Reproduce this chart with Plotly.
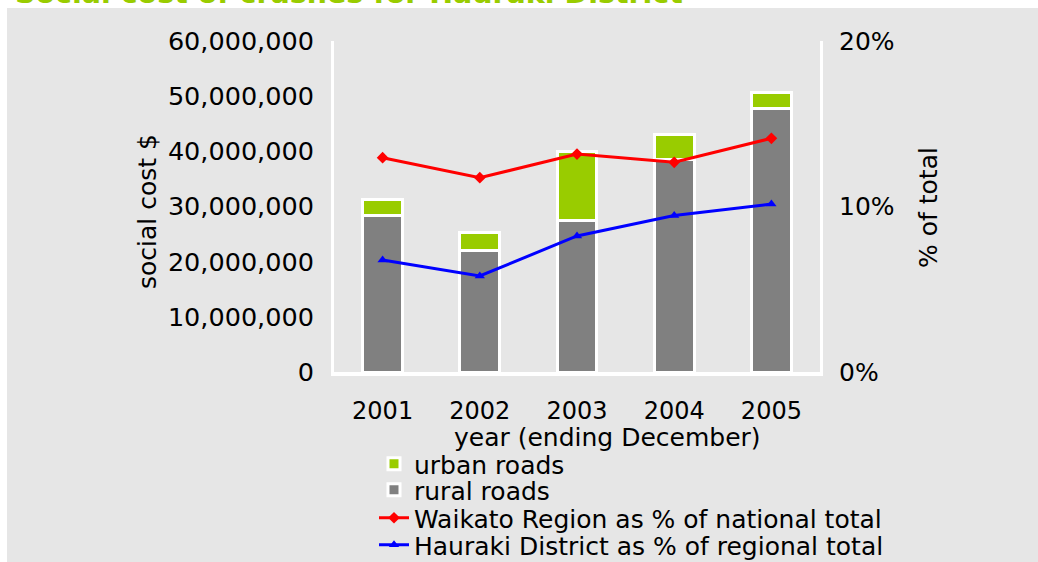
import plotly.graph_objects as go

years = ["2001", "2002", "2003", "2004", "2005"]
rural = [28.3e6, 22.0e6, 27.5e6, 38.6e6, 47.8e6]
urban = [3.0e6, 3.2e6, 12.4e6, 4.4e6, 2.8e6]
waikato_pct = [0.1295, 0.1174, 0.1317, 0.1267, 0.1412]
hauraki_pct = [0.0677, 0.0580, 0.0822, 0.0945, 0.1015]

FONT = "DejaVu Sans"
BG = "#e6e6e6"

fig = go.Figure()
fig.add_trace(go.Bar(x=years, y=rural, name="rural roads", marker=dict(color="#808080", line=dict(color="white", width=3)),
                     legend="legend2"))
fig.add_trace(go.Bar(x=years, y=urban, name="urban roads", marker=dict(color="#99cc00", line=dict(color="white", width=3)),
                     legend="legend"))
fig.add_trace(go.Scatter(x=years, y=waikato_pct, name="Waikato Region as % of national total", yaxis="y2",
                         mode="lines+markers", line=dict(color="#ff0000", width=3),
                         marker=dict(symbol="diamond", size=9, color="#ff0000"), legend="legend3"))
fig.add_trace(go.Scatter(x=years, y=hauraki_pct, name="Hauraki District as % of regional total", yaxis="y2",
                         mode="lines+markers", line=dict(color="#0000ff", width=3),
                         marker=dict(symbol="triangle-up", size=9, color="#0000ff"), legend="legend4"))

W, H = 1038, 562
# plot area in page pixels
PL, PR, PT, PB = 334, 820, 41, 372
PH = PB - PT
PW = PR - PL

def py(p):
    return (PB - p) / PH

def px(p):
    return (p - PL) / PW

leg_common = dict(bgcolor="rgba(0,0,0,0)", font=dict(family=FONT, size=25, color="black"),
                  xanchor="left", yanchor="middle", x=px(374))

fig.update_layout(
    width=W, height=H,
    margin=dict(l=PL, r=W - PR, t=PT, b=H - PB, pad=0, autoexpand=False),
    paper_bgcolor=BG, plot_bgcolor=BG,
    barmode="stack", bargap=0.59,
    showlegend=True,
    font=dict(family=FONT, color="black"),
    xaxis=dict(showgrid=False, showline=True, linecolor="white", linewidth=4, ticks="",
               tickfont=dict(size=24), ticklabelstandoff=14, fixedrange=True),
    yaxis=dict(range=[0, 60e6], dtick=10e6, tickformat=",d", showgrid=False, zeroline=False,
               showline=True, linecolor="white", linewidth=3, ticks="", tickfont=dict(size=25.5),
               ticklabelstandoff=12),
    yaxis2=dict(range=[0, 0.2], dtick=0.1, tickformat=".0%", overlaying="y", side="right",
                showgrid=False, zeroline=False, showline=True, linecolor="white", linewidth=3,
                ticks="", tickfont=dict(size=25), ticklabelstandoff=11),
    legend=dict(y=py(464), **leg_common),
    legend2=dict(y=py(490), **leg_common),
    legend3=dict(y=py(518), **leg_common),
    legend4=dict(y=py(545), **leg_common),
    shapes=[
        dict(type="rect", xref="paper", yref="paper", x0=px(-5), x1=px(7), y0=py(600), y1=py(-5),
             fillcolor="white", line=dict(width=0), layer="below"),
        dict(type="rect", xref="paper", yref="paper", x0=px(-5), x1=px(1045), y0=py(8), y1=py(-5),
             fillcolor="white", line=dict(width=0), layer="below"),
    ],
    annotations=[
        dict(text="<b>Social cost of crashes for Hauraki District</b>", xref="paper", yref="paper",
             x=px(13), y=py(12), xanchor="left", yanchor="bottom", showarrow=False,
             font=dict(family=FONT, size=28.5, color="#99cc00")),
        dict(text="year (ending December)", xref="paper", yref="paper", x=px(607), y=py(437.5),
             xanchor="center", yanchor="middle", showarrow=False, font=dict(size=25)),
        dict(text="social cost $", xref="paper", yref="paper", x=px(147), y=py(212), textangle=-90,
             xanchor="center", yanchor="middle", showarrow=False, font=dict(size=25)),
        dict(text="% of total", xref="paper", yref="paper", x=px(928), y=py(208), textangle=-90,
             xanchor="center", yanchor="middle", showarrow=False, font=dict(size=25)),
    ],
)

fig.write_html("out.html", config={"displayModeBar": False},
               post_script="document.body.style.margin='0';")
